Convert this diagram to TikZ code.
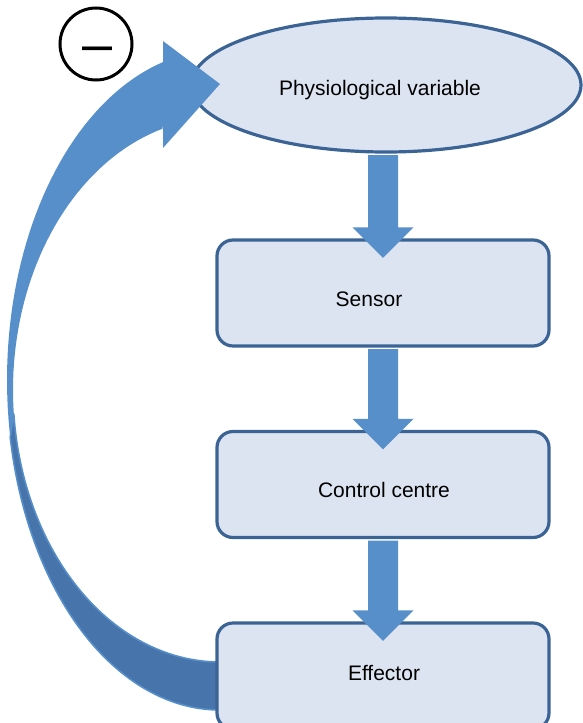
\documentclass[tikz,border=0pt]{standalone}
\usepackage{fontspec}
\setmainfont{Liberation Sans}
\usetikzlibrary{shapes.geometric,calc}
\definecolor{boxfill}{HTML}{DDE4F1}
\definecolor{boxline}{HTML}{3B6495}
\definecolor{arrowblue}{HTML}{578FCA}
\definecolor{arrowdark}{HTML}{4674AB}
\newcommand\blockdown[2]{%
  \fill[blockarrow] let \p1=(#1), \p2=(#2) in
    (\x2-15pt,\y1-1.6pt) -- (\x2-15pt,\y2+11pt) -- (\x2-30.5pt,\y2+11pt) --
    (\x2,\y2-19.5pt) -- (\x2+30.5pt,\y2+11pt) -- (\x2+15pt,\y2+11pt) --
    (\x2+15pt,\y1-1.6pt) -- cycle;}
\begin{document}
\begin{tikzpicture}[x=1pt,y=-1pt,
  stage/.style={draw=boxline,line width=3.2pt,fill=boxfill,rounded corners=16pt,
    minimum width=332pt,minimum height=106pt,inner sep=0pt},
  varell/.style={ellipse,draw=boxline,line width=3.2pt,fill=boxfill,
    minimum width=390pt,minimum height=134pt,inner sep=0pt},
  lbl/.style={font=\fontsize{21}{25}\selectfont,anchor=base,inner sep=0pt},
  blockarrow/.style={fill=arrowblue}]
\useasboundingbox (0,0) rectangle (582,723);

% ellipse
\node[varell] (var) at (386,85) {};

% curved feedback arrow (band)
\fill[arrowblue]
  plot[domain=105.5:270,samples=90,variable=\t] ({220+213*cos(\t)},{380-330*sin(\t)})
  -- plot[domain=0:1,samples=90,variable=\s] ({220+207*cos(270-164.02*\s)},{390-272*sin(270-164.02*\s)})
  -- cycle;
% darker back side of the lower band
\filldraw[fill=arrowdark,draw=arrowblue,line width=1.6pt,line join=round]
  plot[domain=190:270,samples=60,variable=\t] ({220+213*cos(\t)},{380-330*sin(\t)})
  -- plot[domain=0:1,samples=60,variable=\s] ({220+207*cos(270-85*\s)},{390-272*sin(270-85*\s)})
  -- cycle;
% arrow head
\fill[arrowblue] (163,41) -- (220,84) -- (163,148) -- cycle;

% boxes
\node[stage] (sen) at (383,293) {};
\node[stage] (con) at (383,484.5) {};
\node[stage] (eff) at (383,676) {};

% labels
\node[lbl] (tvar) at (380,95) {Physiological variable};
\node[lbl] (tsen) at (369,306.5) {Sensor};
\node[lbl] (tcon) at (384,497.5) {Control centre};
\node[lbl] (teff) at (384,680.5) {Effector};

% block arrows
\blockdown{var.south}{sen.north}
\blockdown{sen.south}{con.north}
\blockdown{con.south}{eff.north}

% negative sign
\node[draw,circle,line width=3pt,minimum size=72pt,inner sep=0pt] (neg) at (96,44) {};
\node[font=\fontsize{54}{54}\selectfont,anchor=base,inner sep=0pt] (negsign) at (98,62) {–};
\end{tikzpicture}
\end{document}
